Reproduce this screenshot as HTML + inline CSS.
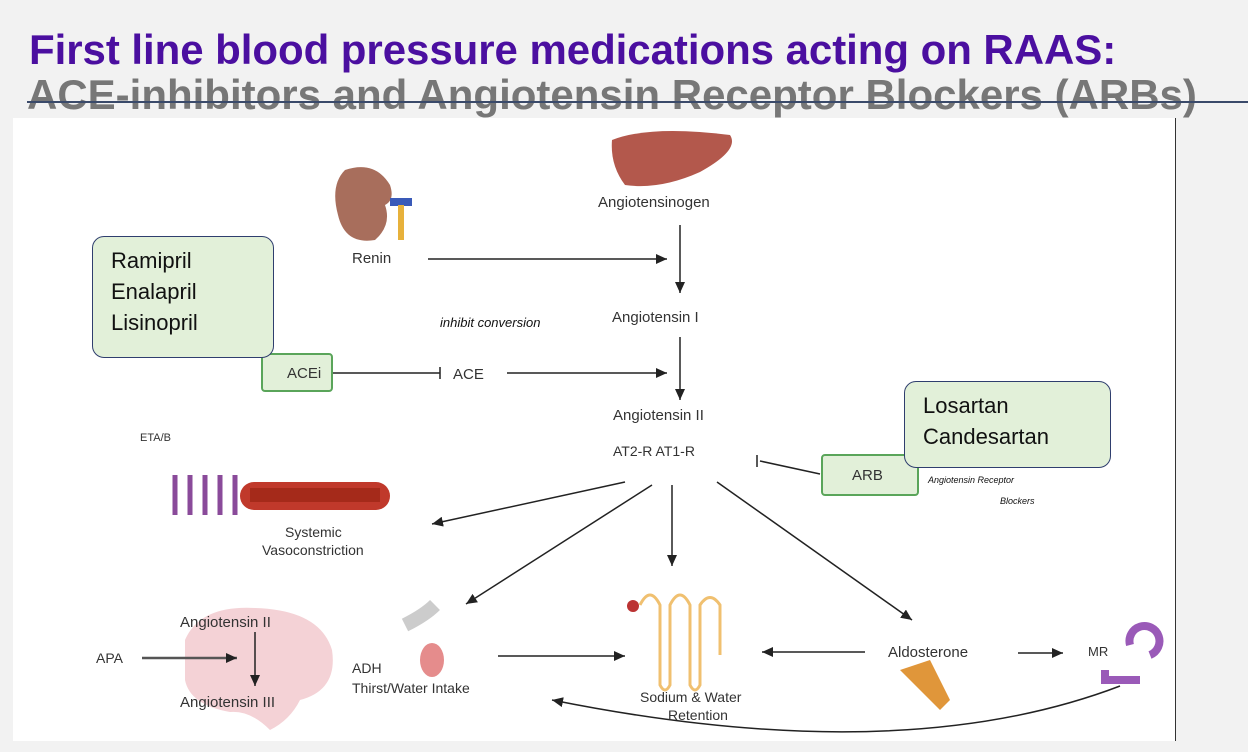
<!DOCTYPE html>
<html><head><meta charset="utf-8"><style>
body{margin:0;width:1248px;height:752px;background:#f2f2f2;position:relative;overflow:hidden;font-family:"Liberation Sans",sans-serif}
.t{position:absolute;font-weight:bold;white-space:nowrap}
.box{position:absolute;background:#e2f0d9;border:1px solid #2f3e6e;border-radius:12px;font-size:22px;line-height:31px;padding:8px 0 0 18px;box-sizing:border-box;color:#111}
</style></head><body>
<div class="t" style="left:29px;top:26px;font-size:42px;color:#4b0fa0;letter-spacing:-0.05px">First line blood pressure medications acting on RAAS:</div>
<div class="t" style="left:27px;top:71px;font-size:42px;color:#777;letter-spacing:0px">ACE-inhibitors and Angiotensin Receptor Blockers (ARBs)</div>
<div style="position:absolute;left:27px;top:101px;width:1221px;height:2px;background:#3a4a6a"></div>
<div style="position:absolute;left:13px;top:118px;width:1162px;height:623px;background:#fff;border-right:1px solid #333"></div>
<svg width="1248" height="752" style="position:absolute;left:0;top:0" font-family="Liberation Sans,sans-serif">
<defs><marker id="a" markerUnits="userSpaceOnUse" markerWidth="12" markerHeight="12" refX="11" refY="5" orient="auto"><path d="M0,0L11,5L0,10z" fill="#222"/></marker></defs>
<!-- brain -->
<path d="M185,640Q200,605 255,608Q320,610 332,650Q338,690 300,700Q290,720 270,730Q250,710 230,712Q190,705 185,680z" fill="#f4d2d6"/>
<g stroke="#222" stroke-width="1.5" fill="none">
<path d="M428,259H667" marker-end="url(#a)"/>
<path d="M680,225V293" marker-end="url(#a)"/>
<path d="M680,337V400" marker-end="url(#a)"/>
<path d="M507,373H667" marker-end="url(#a)"/>
<path d="M332,373H440M440,367V379"/>
<path d="M820,474L760,461M757,455V467"/>
<path d="M625,482L432,524" marker-end="url(#a)"/>
<path d="M672,485V566" marker-end="url(#a)"/>
<path d="M652,485L466,604" marker-end="url(#a)"/>
<path d="M717,482L912,620" marker-end="url(#a)"/>
<path d="M498,656H625" marker-end="url(#a)"/>
<path d="M865,652H762" marker-end="url(#a)"/>
<path d="M1018,653H1063" marker-end="url(#a)"/>
<path d="M142,658H237" marker-end="url(#a)" stroke-width="2.5" stroke="#555"/>
<path d="M255,632V686" marker-end="url(#a)"/>
<path d="M1120,686Q900,770 552,700" marker-end="url(#a)"/>
</g>
<path d="M612,140Q650,125 730,135Q740,150 700,172Q660,190 625,185Q610,165 612,140z" fill="#b3584c"/>
<path d="M345,170Q375,160 390,185Q395,200 385,205Q392,225 375,240Q345,245 338,215Q330,185 345,170z" fill="#a86e5c"/>
<rect x="390" y="198" width="22" height="8" fill="#3a5ab8"/><rect x="398" y="205" width="6" height="35" fill="#e7b13b"/>
<g fill="none" stroke="#8a4a9a" stroke-width="5"><path d="M175,475v40M190,475v40M205,475v40M220,475v40M235,475v40"/></g>
<rect x="240" y="482" width="150" height="28" rx="14" fill="#c0392b"/><rect x="250" y="488" width="130" height="14" fill="#a52a1a"/>
<path d="M405,625q20,-10 30,-20" stroke="#ccc" stroke-width="14" fill="none"/>
<ellipse cx="432" cy="660" rx="12" ry="17" fill="#e58c8c"/>
<path d="M640,605q10,-20 20,0v80q5,10 10,0v-80q10,-20 20,0v80q5,10 10,0v-80q10,-15 20,0v50" stroke="#f0c070" stroke-width="3" fill="none"/>
<circle cx="633" cy="606" r="6" fill="#b33"/>
<path d="M900,670l30,-10 20,40 -10,10z" fill="#e0963a"/>
<path d="M1130,645a15,15 0 1 1 20,10M1105,670v10h35" stroke="#9a5ab8" stroke-width="8" fill="none"/>
<g font-size="15" fill="#333">
<text x="598" y="207">Angiotensinogen</text>
<text x="352" y="263">Renin</text>
<text x="612" y="322">Angiotensin I</text>
<text x="453" y="379">ACE</text>
<text x="613" y="420">Angiotensin II</text>
<text x="613" y="456" font-size="14">AT2-R   AT1-R</text>
<text x="140" y="441" font-size="11">ETA/B</text>
<text x="285" y="537" font-size="14">Systemic</text>
<text x="262" y="555" font-size="14">Vasoconstriction</text>
<text x="180" y="627">Angiotensin II</text>
<text x="180" y="707">Angiotensin III</text>
<text x="96" y="663" font-size="14">APA</text>
<text x="352" y="673" font-size="14">ADH</text>
<text x="352" y="693" font-size="14">Thirst/Water Intake</text>
<text x="640" y="702" font-size="14">Sodium &amp; Water</text>
<text x="668" y="720" font-size="14">Retention</text>
<text x="888" y="657">Aldosterone</text>
<text x="1088" y="656" font-size="13">MR</text>
<text x="440" y="327" font-size="13" font-style="italic" fill="#111">inhibit conversion</text>
<text x="928" y="483" font-size="9" font-style="italic" fill="#111">Angiotensin Receptor</text>
<text x="1000" y="504" font-size="9" font-style="italic" fill="#111">Blockers</text>
</g>
<rect x="262" y="354" width="70" height="37" rx="3" fill="#e2f0d9" stroke="#5aa55a" stroke-width="2"/>
<text x="287" y="378" font-size="15" fill="#333">ACEi</text>
<rect x="822" y="455" width="96" height="40" rx="3" fill="#e2f0d9" stroke="#5aa55a" stroke-width="2"/>
<text x="852" y="480" font-size="15" fill="#333">ARB</text>
</svg>
<div class="box" style="left:92px;top:236px;width:182px;height:122px">Ramipril<br>Enalapril<br>Lisinopril</div>
<div class="box" style="left:904px;top:381px;width:207px;height:87px">Losartan<br>Candesartan</div>
</body></html>
